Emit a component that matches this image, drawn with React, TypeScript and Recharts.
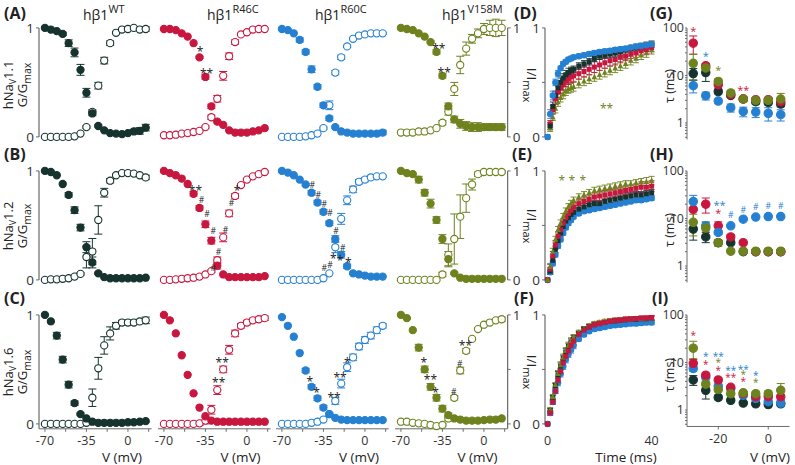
import { ScatterChart, Scatter, XAxis, YAxis, ErrorBar, ReferenceLine } from 'recharts';

const cWT = '#17332f';
const cR46 = '#c8173f';
const cR60 = '#2680d2';
const cV158 = '#6e821e';
const AXIS = '#6a6a6a';
const FONT = '"Open Sans", "Liberation Sans", sans-serif';
const tickStyle = { fontSize: 12.5, fill: '#333', fontFamily: FONT };

// ---- G/Gmax panels (A-C): test voltages
const volts = [-70, -65, -60, -55, -50, -45, -40, -35, -30, -25, -20, -15, -10, -5, 0, 5, 10, 15];

// row A, hNav1.1 (in = inactivation, filled; ac = activation, open)
const a_wt_in = [1, .985, .97, .945, .86, .775, .615, .405, .215, .1, .06, .035, .03, .025, .035, .05, .055, .085];
const a_wt_ac = [0, 0, 0, 0, 0, .005, .03, .09, .23, .47, .7, .86, .955, .985, .99, 1, .985, .99];
const a_r46_in = [.99, .99, .98, .95, .92, .86, .73, .55, .28, .14, .11, .06, .04, .04, .04, .05, .06, .08];
const a_r46_ac = [.015, .015, .02, .03, .035, .045, .055, .09, .18, .35, .56, .74, .87, .94, .96, .985, .99, .99];
const a_r60_in = [.99, .98, .95, .89, .78, .62, .46, .29, .17, .09, .05, .04, .03, .03, .03, .03, .03, .04];
const a_r60_ac = [0, 0, 0, 0, .005, .015, .03, .08, .29, .59, .73, .83, .9, .93, .94, .95, .95, .95];
const a_v158_in = [1, .99, .98, .95, .92, .87, .78, .56, .28, .16, .12, .1, .09, .09, .09, .09, .09, .09];
const a_v158_ac = [.04, .04, .04, .05, .05, .06, .08, .13, .23, .44, .66, .81, .9, .95, .99, 1, 1, 1];
const a_wt_in_e = [0, 0, 0, .015, .03, .04, .05, .04, .02, .01, 0, 0, 0, .01, .01, .02, .03, .03];
const a_wt_ac_e = [0, 0, 0, 0, 0, 0, 0, .01, .02, .03, .03, .02, .01, 0, 0, .01, .01, .02];
const a_r46_in_e = [0, 0, 0, 0, 0, 0, .01, .02, .02, .01, 0, 0, 0, 0, 0, 0, 0, 0];
const a_r46_ac_e = [0, 0, 0, 0, 0, 0, 0, .01, .02, .03, .04, .03, .02, .01, .01, 0, 0, 0];
const a_r60_in_e = [0, 0, 0, .02, .02, .03, .02, .02, .02, .01, 0, 0, 0, 0, .01, .01, .02, .02];
const a_r60_ac_e = [0, .01, .01, .01, .01, 0, 0, .01, .04, .02, .02, .01, .01, .01, .01, .01, .01, .01];
const a_v158_in_e = [0, 0, 0, 0, 0, .01, .02, .02, .03, .03, .04, .04, .04, .04, .03, .03, .03, .03];
const a_v158_ac_e = [0, 0, 0, 0, 0, 0, 0, .02, .03, .06, .08, .06, .04, .04, .05, .07, .08, .07];

// row B, hNav1.2
const b_wt_in = [1, .99, .96, .88, .78, .64, .48, .3, .16, .06, .025, .015, .015, .015, .015, .015, .015, .02];
const b_wt_ac = [0, .005, .005, .01, .015, .03, .055, .21, .26, .55, .8, .91, .96, .98, .98, .975, .96, .94];
const b_r46_in = [1, .98, .96, .93, .88, .79, .66, .51, .36, .13, .05, .025, .025, .025, .025, .025, .025, .035];
const b_r46_ac = [0, 0, .005, .01, .015, .02, .03, .05, .08, .18, .39, .61, .77, .87, .92, .95, .97, .99];
const b_r60_in = [1, .985, .96, .92, .875, .8, .71, .625, .52, .375, .23, .125, .06, .05, .04, .03, .03, .03];
const b_r60_ac = [0, 0, 0, 0, 0, 0, 0, .015, .06, .3, .56, .73, .83, .9, .92, .94, .95, .95];
const b_v158_in = [1, .98, .97, .92, .8, .7, .55, .375, .19, .06, .02, .01, .01, .01, .01, .01, .01, .01];
const b_v158_ac = [0, 0, 0, 0, 0, 0, 0, .05, .23, .375, .58, .75, .875, .97, .99, .99, .99, .99];
const b_wt_in_e = [0, 0, 0, 0, .02, .03, .03, .05, .05, .01, 0, 0, 0, 0, 0, 0, 0, 0];
const b_wt_ac_e = [0, 0, 0, 0, 0, 0, .01, .1, .12, .13, .04, .02, .01, .01, 0, 0, .01, .02];
const b_r46_in_e = [0, 0, 0, 0, 0, .02, .02, .03, .03, .03, 0, 0, 0, 0, 0, 0, 0, 0];
const b_r46_ac_e = [0, 0, 0, 0, 0, 0, 0, 0, .01, .03, .04, .03, .02, .01, .01, .01, .01, .01];
const b_r60_in_e = [0, 0, 0, 0, .01, .02, .02, .02, .02, .03, .03, .02, .01, 0, 0, 0, 0, 0];
const b_r60_ac_e = [0, .01, .01, .01, .01, .01, 0, 0, 0, .05, .05, .04, .03, .02, .02, .02, .01, .01];
const b_v158_in_e = [0, 0, 0, .03, .03, .04, .03, .04, .07, .01, 0, 0, 0, 0, 0, 0, 0, 0];
const b_v158_ac_e = [.01, .01, 0, 0, 0, 0, 0, .02, .1, .23, .2, .13, .05, .02, .01, .01, .01, .01];

// row C, hNav1.6
const c_wt_in = [1, .94, .81, .59, .36, .19, .09, .05, .02, .01, .01, .01, .01, .01, .015, .015, .02, .025];
const c_wt_ac = [0, 0, 0, 0, 0, 0, 0, .01, .24, .51, .72, .83, .9, .93, .93, .93, .94, .95];
const c_r46_in = [1, .95, .83, .63, .45, .28, .15, .07, .03, .02, .02, .02, .02, .02, .02, .02, .02, .02];
const c_r46_ac = [0, 0, 0, 0, 0, 0, .005, .03, .13, .31, .5, .68, .83, .9, .93, .95, .96, .97];
const c_r60_in = [.98, .9, .8, .65, .49, .34, .235, .15, .09, .055, .04, .035, .035, .035, .035, .035, .035, .035];
const c_r60_ac = [0, 0, 0, 0, 0, .01, .02, .04, .09, .21, .37, .52, .61, .71, .77, .81, .86, .9];
const c_v158_in = [1, .97, .86, .7, .5, .34, .24, .14, .08, .05, .04, .03, .03, .03, .035, .04, .04, .05];
const c_v158_ac = [.02, .02, .01, .005, 0, -.01, -.02, -.01, .05, .24, .49, .67, .78, .87, .91, .93, .95, .96];
const c_wt_in_e = [0, 0, .03, .03, .03, .02, .01, 0, 0, 0, 0, 0, 0, 0, 0, 0, 0, 0];
const c_wt_ac_e = [0, 0, 0, 0, 0, 0, 0, 0, .08, .1, .08, .06, .03, .02, .02, .02, .02, .03];
const c_r46_ac_e = [0, 0, 0, 0, 0, 0, .02, .03, .04, .04, .03, .04, .03, .02, .02, .02, .02, .02];
const c_r60_in_e = [0, 0, 0, 0, .02, .02, .02, .02, 0, 0, 0, 0, 0, 0, 0, 0, 0, 0];
const c_r60_ac_e = [0, .01, .01, .01, .01, .01, 0, 0, .01, .03, .04, .04, .03, .03, .03, .03, .03, .02];
const c_v158_in_e = [0, 0, 0, .03, .03, .03, .03, .03, .02, 0, 0, 0, 0, 0, 0, 0, 0, 0];
const c_v158_ac_e = [0, 0, 0, 0, 0, 0, 0, .01, .02, .02, .03, .02, .01, .01, .01, .01, .01, .02];

// significance marks (x in mV, y in G/Gmax)
const a_r46_notes = [{ x: -39.5, y: .8, t: '*' }, { x: -34, y: .6, t: '**' }];
const a_v158_notes = [{ x: -38, y: .83, t: '**' }, { x: -33.5, y: .61, t: '**' }];
const b_r46_notes = [
  { x: -43.4, y: .84, t: '**' }, { x: -38.4, y: .73, t: '#' }, { x: -33.6, y: .6, t: '#' }, { x: -28.5, y: .45, t: '#' },
  { x: -24, y: .26, t: '#' }, { x: -28.5, y: .11, t: '#' }, { x: -18, y: .46, t: '#' }, { x: -13, y: .71, t: '#' }, { x: -8.3, y: .84, t: '*' },
];
const b_r60_notes = [
  { x: -44.4, y: .87, t: '#' }, { x: -39.4, y: .78, t: '#' }, { x: -34.3, y: .7, t: '#' }, { x: -29.5, y: .61, t: '#' },
  { x: -24.5, y: .45, t: '#' }, { x: -18.8, y: .29, t: '#' }, { x: -34.3, y: .11, t: '#' }, { x: -29.5, y: .14, t: '#' },
  { x: -26.7, y: .21, t: '*' }, { x: -21, y: .2, t: '*' }, { x: -14, y: .18, t: '*' },
];
const c_r46_notes = [{ x: -23.8, y: .4, t: '**' }, { x: -20.9, y: .58, t: '**' }];
const c_r60_notes = [
  { x: -46.4, y: .405, t: '*' }, { x: -40.7, y: .31, t: '*' }, { x: -26, y: .26, t: '**' }, { x: -21, y: .44, t: '**' }, { x: -14.9, y: .58, t: '*' },
];
const c_v158_notes = [
  { x: -50.8, y: .58, t: '*' }, { x: -45.1, y: .43, t: '**' }, { x: -40.9, y: .31, t: '*' },
  { x: -25.5, y: .29, t: '#' }, { x: -20.4, y: .55, t: '#' }, { x: -15.6, y: .74, t: '**' },
];

// ---- recovery from inactivation (D-F)
const times = [0, 1, 2, 3, 4, 5, 6, 7, 8, 9, 10, 12, 14, 16, 18, 20, 22, 24, 26, 28, 30, 32, 34, 36, 38, 40];
const d_wt = [0, .1, .28, .38, .45, .5, .54, .57, .59, .61, .62, .65, .67, .69, .72, .74, .75, .76, .77, .78, .8, .81, .82, .83, .84, .85];
const d_r46 = [0, .12, .25, .35, .41, .45, .48, .51, .53, .55, .56, .58, .6, .62, .64, .66, .68, .7, .71, .73, .74, .76, .77, .79, .8, .82];
const d_r60 = [0, .21, .38, .5, .58, .63, .67, .69, .71, .72, .73, .74, .75, .76, .77, .78, .785, .79, .8, .805, .81, .82, .83, .835, .84, .85];
const d_v158 = [0, .08, .18, .26, .32, .36, .39, .42, .44, .45, .46, .49, .51, .53, .55, .57, .59, .61, .63, .65, .67, .7, .72, .75, .77, .8];
const e_wt = [0, .08, .18, .28, .36, .43, .49, .54, .57, .6, .62, .65, .67, .69, .7, .7, .72, .73, .74, .75, .76, .77, .78, .78, .79, .8];
const e_r46 = [0, .1, .22, .32, .4, .46, .52, .57, .61, .64, .67, .7, .72, .74, .76, .77, .78, .79, .8, .81, .82, .83, .84, .85, .85, .86];
const e_r60 = [0, .07, .15, .23, .31, .37, .43, .48, .52, .55, .58, .61, .63, .64, .65, .66, .67, .68, .69, .7, .71, .72, .73, .73, .74, .75];
const e_v158 = [0, .12, .26, .37, .46, .52, .58, .63, .67, .7, .73, .76, .78, .8, .82, .83, .84, .85, .86, .87, .88, .88, .89, .9, .9, .91];
const f_wt = [0, .12, .24, .35, .45, .53, .6, .66, .71, .75, .78, .83, .87, .89, .91, .92, .93, .94, .945, .95, .955, .96, .96, .965, .965, .97];
const f_r46 = [0, .1, .2, .3, .4, .48, .56, .62, .67, .72, .76, .82, .86, .89, .91, .92, .93, .94, .95, .95, .96, .96, .965, .97, .97, .975];
const f_r60 = [0, .1, .2, .3, .38, .46, .53, .59, .64, .68, .72, .78, .82, .85, .87, .88, .89, .9, .905, .91, .915, .92, .92, .925, .93, .93];
const f_v158 = [0, .13, .25, .36, .46, .54, .61, .67, .72, .76, .79, .84, .87, .9, .92, .93, .94, .945, .95, .955, .96, .96, .965, .965, .97, .97];
// SEM of the recovery curves
const d_wt_e = [0, .03, .04, .04, .04, .04, .04, .04, .04, .03, .03, .03, .03, .03, .03, .03, .03, .03, .03, .03, .03, .03, .03, .03, .03, .03];
const d_r46_e = [0, .03, .04, .05, .05, .05, .05, .05, .05, .05, .05, .05, .05, .05, .05, .05, .05, .05, .05, .05, .04, .04, .04, .04, .04, .04];
const d_r60_e = [0, .04, .04, .03, .03, .02, .02, .02, .02, .02, .02, .02, .02, .02, .02, .02, .02, .02, .02, .02, .02, .02, .02, .02, .02, .02];
const d_v158_e = [0, .03, .03, .04, .04, .04, .04, .04, .04, .04, .04, .04, .04, .04, .04, .04, .04, .04, .04, .04, .04, .04, .04, .04, .04, .04];
const e_wt_e = [0, .03, .03, .03, .03, .03, .03, .03, .03, .03, .03, .03, .03, .03, .03, .03, .03, .03, .03, .03, .03, .03, .03, .03, .03, .03];
const e_r46_e = [0, .04, .04, .04, .04, .04, .04, .04, .04, .04, .04, .04, .04, .04, .04, .04, .04, .04, .04, .04, .04, .04, .04, .05, .05, .05];
const e_r60_e = [0, .02, .02, .02, .02, .02, .02, .02, .02, .02, .02, .02, .02, .02, .02, .02, .02, .02, .02, .02, .02, .02, .02, .02, .02, .02];
const e_v158_e = [0, .03, .03, .03, .03, .03, .03, .03, .03, .03, .03, .03, .03, .03, .03, .03, .03, .03, .03, .03, .03, .03, .03, .03, .04, .04];
const f_e = [0, .02, .02, .02, .03, .03, .03, .03, .03, .03, .03, .02, .02, .02, .02, .02, .02, .02, .02, .02, .02, .02, .02, .02, .02, .02];
const d_notes = [{ x: 22.7, y: .28, t: '**' }];
const e_notes = [{ x: 5.5, y: .93, t: '*' }, { x: 9.3, y: .93, t: '*' }, { x: 13.5, y: .93, t: '*' }];

// ---- recovery time constants (G-I)
const tauV = [-30, -25, -20, -15, -10, -5, 0, 5];
const g_wt = [11, 11.5, 4.6, 3.8, 3.2, 2.8, 2.7, 2.5];
const g_r46 = [48, 16, 6.4, 4, 3.2, 3.1, 3.1, 2.8];
const g_r60 = [6.1, 3.75, 2.9, 2.1, 1.75, 1.7, 1.6, 1.5];
const g_v158 = [18, 14.4, 7.5, 4.3, 3.2, 3, 3, 3.2];
const g_wt_e = [3, 4, .5, .3, .3, .3, .3, .3];
const g_r46_e = [20, 2, 1, .3, .3, .3, .3, .3];
const g_r60_e = [1.8, .7, .3, .4, .4, .4, .5, .4];
const g_v158_e = [10, 3, 1, .5, .4, .4, .4, 1];
const h_wt = [6, 4.1, 3.1, 3.1, 2, 2, 2, 2];
const h_r46 = [15.6, 20, 7, 4.1, 3.1, 2, 2, 2];
const h_r60 = [22.7, 7, 5.1, 7, 9.7, 10.7, 11, 11];
const h_v158 = [8.3, 6.3, 3.1, 2.05, 2.05, 2.05, 2.05, 2.05];
const h_wt_e = [2.5, 1, .3, .2, 0, 0, 0, 0];
const h_r46_e = [9, 7, 1.5, .5, .2, 0, 0, 0];
const h_r60_e = [8, 1.5, .5, .5, .5, .5, .5, .5];
const h_v158_e = [4, 2, .5, .1, .1, .1, .1, .1];
const i_wt = [4.3, 2.6, 1.84, 1.6, 1.4, 1.35, 1.3, 1.35];
const i_r46 = [9.6, 5.4, 4.3, 3, 2.2, 1.9, 1.9, 1.9];
const i_r60 = [7.5, 4.9, 3.2, 2.8, 2.05, 1.75, 1.5, 1.4];
const i_v158 = [20, 3.5, 2.7, 2.2, 2.3, 2.2, 2.2, 2.6];
const i_wt_e = [1, .9, .2, .1, .1, .1, .1, .1];
const i_r46_e = [2, .5, .4, .3, .2, .2, .2, .2];
const i_r60_e = [1, .6, .3, .3, .2, .2, .2, .2];
const i_v158_e = [8, .5, .3, .2, .2, .2, .3, 1];

const g_notes_r46 = [{ x: -30, y: 95, t: '*' }, { x: -10, y: 5.4, t: '**' }];
const g_notes_r60 = [{ x: -25, y: 28, t: '*' }];
const g_notes_v158 = [{ x: -20, y: 14.4, t: '*' }];
const h_notes_r60 = [
  { x: -19.5, y: 21, t: '**' }, { x: -15, y: 11.8, t: '#' }, { x: -10, y: 15, t: '#' }, { x: -5, y: 17.5, t: '#' }, { x: 0, y: 18, t: '#' }, { x: 5, y: 18, t: '#' },
];
const h_notes_r46 = [{ x: -20, y: 14.4, t: '*' }];
const i_notes_r46 = [{ x: -30, y: 41, t: '*' }, { x: -25, y: 9.9, t: '*' }, { x: -20, y: 7.3, t: '*' }, { x: -15, y: 5.3, t: '**' }, { x: -10, y: 4.4, t: '*' }];
const i_notes_r60 = [{ x: -25, y: 15, t: '*' }, { x: -20, y: 15, t: '**' }, { x: -15, y: 7.3, t: '**' }, { x: -10, y: 7.8, t: '**' }, { x: -5, y: 5.9, t: '*' }];
const i_notes_v158 = [{ x: -20, y: 10.9, t: '*' }, { x: -10, y: 6.2, t: '*' }, { x: -5, y: 4.2, t: '*' }];

const LOG_TICKS = [0.5, 0.6, 0.7, 0.8, 0.9, 1, 2, 3, 4, 5, 6, 7, 8, 9, 10, 20, 30, 40, 50, 60, 70, 80, 90, 100];
const G_XTICKS = [-70, -52.5, -35, -17.5, 0, 17.5];

type Pt = { x: number; y: number; e?: number; t?: string };
const pts = (xs: number[], ys: number[], es?: number[]): Pt[] => xs.map((x, i) => ({ x, y: ys[i], e: es ? es[i] : 0 }));

const dot = (color: string, open = false, r = 3.6) => (p: any) =>
  <circle cx={p.cx} cy={p.cy} r={r} fill={open ? '#fff' : color} stroke={color} strokeWidth={1.1} />;
const square = (color: string, s = 5) => (p: any) =>
  <rect x={p.cx - s / 2} y={p.cy - s / 2} width={s} height={s} fill={color} />;
const tri = (color: string, s = 5.6) => (p: any) =>
  <path d={`M${p.cx},${p.cy - s * 0.6}L${p.cx + s / 2},${p.cy + s * 0.4}L${p.cx - s / 2},${p.cy + s * 0.4}Z`} fill={color} />;
const note = (color: string, size = 12) => (p: any) => {
  const hash = p.payload.t.includes('#');
  return (
    <text x={p.cx} y={p.cy + (hash ? 3 : size * 0.54)} textAnchor="middle" fontSize={hash ? 8.5 : size} fill={color} fontFamily={FONT}>
      {p.payload.t}
    </text>
  );
};

const ZERO = { top: 0, right: 0, bottom: 0, left: 0 };
const K = 83 / 70; // px per mV
const ROW1 = [28, 171, 314.5]; // y of 1.0 in each row
const UNIT = 109;
const YMIN = -0.045;
const G_DOMAIN = [YMIN, 1.1];
const G_TICKS_L = [0, 1];
const G_TICKS_R = [0, 0.5, 1];
const fmtHalf = (v: number) => (v === 0.5 ? '' : String(v));
const fmtMv = (v: number) => (v === -70 || v === -35 || v === 0 ? String(v) : '');
const fmtLog = (v: number) => (v === 1 || v === 10 || v === 100 ? String(v) : '');
const axisTick = { ...tickStyle, fontSize: 13.5 };
const axisLineStyle = { stroke: AXIS };
const PLOT_H = (1.1 - YMIN) * UNIT;

function GPanel({ x70, row, color, inact, act, notes = [], side, bottom }: {
  x70: number; row: number; color: string; inact: Pt[]; act: Pt[]; notes?: Pt[]; side?: 'left' | 'right'; bottom?: boolean;
}) {
  const lw = side === 'left' ? 22 : 0;
  const rw = side === 'right' ? 18 : 0;
  const bh = bottom ? 24 : 0;
  const plotL = x70 - 5 * K;
  const plotW = 95 * K;
  const axisX = side === 'right' ? 20 : -75;
  return (
    <div style={{ position: 'absolute', left: plotL - lw, top: ROW1[row] - 0.1 * UNIT }}>
      <ScatterChart width={plotW + lw + rw} height={PLOT_H + bh} margin={ZERO}>
        <XAxis type="number" dataKey="x" domain={[-75, 20]} ticks={G_XTICKS} tickFormatter={fmtMv} hide={!bottom} height={bh || 1}
          axisLine={axisLineStyle} tickLine={axisLineStyle} tickSize={3} tickMargin={4} tick={tickStyle} interval={0} />
        <YAxis type="number" dataKey="y" domain={G_DOMAIN} hide={!side} orientation={side === 'right' ? 'right' : 'left'}
          width={lw + rw || 1} ticks={side === 'right' ? G_TICKS_R : G_TICKS_L} tickFormatter={fmtHalf}
          axisLine={false} tickSize={3} tickMargin={2} tickLine={axisLineStyle} tick={axisTick} interval={0} />
        {side && <ReferenceLine segment={[{ x: axisX, y: bottom ? YMIN : 0 }, { x: axisX, y: 1 }]} stroke={AXIS} strokeWidth={1.2} />}
        <Scatter data={act} shape={dot(color, true)} isAnimationActive={false}>
          <ErrorBar dataKey="e" direction="y" width={4} stroke={color} strokeWidth={1} />
        </Scatter>
        <Scatter data={inact} shape={dot(color)} isAnimationActive={false}>
          <ErrorBar dataKey="e" direction="y" width={4} stroke={color} strokeWidth={1} />
        </Scatter>
        {notes.length > 0 && <Scatter data={notes} shape={note('#222')} isAnimationActive={false} />}
      </ScatterChart>
    </div>
  );
}

const TPX = 2.6; // px per ms
function RPanel({ row, series, notes = [], bottom }: {
  row: number; series: { data: Pt[]; shape: any; color: string }[]; notes?: Pt[]; bottom?: boolean;
}) {
  const lw = 20;
  const bh = bottom ? 24 : 0;
  const plotL = 548 - TPX;
  return (
    <div style={{ position: 'absolute', left: plotL - lw, top: ROW1[row] - 0.1 * UNIT }}>
      <ScatterChart width={45 * TPX + lw} height={PLOT_H + bh} margin={ZERO}>
        <XAxis type="number" dataKey="x" domain={[-1, 44]} ticks={[0, 40]} hide={!bottom} height={bh || 1}
          axisLine={false} tickLine={false} tickSize={3} tickMargin={4} tick={tickStyle} interval={0} />
        <YAxis type="number" dataKey="y" domain={G_DOMAIN} width={lw} ticks={G_TICKS_R}
          tickFormatter={fmtHalf} axisLine={false} tickSize={3} tickMargin={2}
          tickLine={axisLineStyle} tick={axisTick} interval={0} />
        <ReferenceLine segment={[{ x: -1, y: 0 }, { x: -1, y: 1 }]} stroke={AXIS} strokeWidth={1.2} />
        {series.map((s, i) => (
          <Scatter key={i} data={s.data} shape={s.shape} isAnimationActive={false}>
            <ErrorBar dataKey="e" direction="y" width={3} stroke={s.color} strokeWidth={0.9} />
          </Scatter>
        ))}
        {notes.length > 0 && <Scatter data={notes} shape={note(cV158)} isAnimationActive={false} />}
      </ScatterChart>
    </div>
  );
}

const VPX = 2.5; // px per mV in tau panels
const DEC = 47.5; // px per decade
function TPanel({ row, series, notes, bottom, noteSize = 11 }: {
  row: number; series: { data: Pt[]; color: string }[]; notes: { data: Pt[]; color: string }[]; bottom?: boolean; noteSize?: number;
}) {
  const y100 = [28, 171, 315][row];
  const lw = 32;
  const bh = bottom ? 24 : 0;
  const plotL = 693 - 2.5 * VPX;
  return (
    <div style={{ position: 'absolute', left: plotL - lw, top: y100 }}>
      <ScatterChart width={41 * VPX + lw} height={DEC * Math.log10(100 / 0.45) + bh} margin={ZERO}>
        <XAxis type="number" dataKey="x" domain={[-32.5, 8.5]} ticks={[-20, 0]} hide={!bottom} height={bh || 1}
          tickSize={3} tickMargin={5} axisLine={axisLineStyle} tickLine={axisLineStyle} tick={tickStyle} interval={0} />
        <YAxis type="number" dataKey="y" scale="log" domain={[0.45, 100]} ticks={LOG_TICKS} width={lw}
          tickFormatter={fmtLog} tickSize={2} tickMargin={1}
          axisLine={axisLineStyle} tickLine={axisLineStyle} tick={tickStyle} interval={0} />
        {series.map((s, i) => (
          <Scatter key={i} data={s.data} shape={dot(s.color, false, 4.2)} isAnimationActive={false}>
            <ErrorBar dataKey="e" direction="y" width={4} stroke={s.color} strokeWidth={1} />
          </Scatter>
        ))}
        {notes.map((n, i) => <Scatter key={'n' + i} data={n.data} shape={note(n.color, noteSize)} isAnimationActive={false} />)}
      </ScatterChart>
    </div>
  );
}

const X70 = [45, 163.5, 282, 400.5];
const titles = [
  { x: 83, sup: 'WT' }, { x: 207, sup: 'R46C' }, { x: 315, sup: 'R60C' }, { x: 442, sup: 'V158M' },
];
const letters = [
  { t: '(A)', x: 4, y: 19 }, { t: '(B)', x: 4, y: 160 }, { t: '(C)', x: 4, y: 304 },
  { t: '(D)', x: 514, y: 19 }, { t: '(E)', x: 512, y: 160 }, { t: '(F)', x: 514, y: 304 },
  { t: '(G)', x: 650, y: 19 }, { t: '(H)', x: 650, y: 160 }, { t: '(I)', x: 652, y: 304 },
];
const rowNames = ['1.1', '1.2', '1.6'];
const rowMid = [85, 226, 372];
const tauMid = [86, 230, 375];

// build series once
const A = [
  [pts(volts, a_wt_in, a_wt_in_e), pts(volts, a_wt_ac, a_wt_ac_e)],
  [pts(volts, a_r46_in, a_r46_in_e), pts(volts, a_r46_ac, a_r46_ac_e)],
  [pts(volts, a_r60_in, a_r60_in_e), pts(volts, a_r60_ac, a_r60_ac_e)],
  [pts(volts, a_v158_in, a_v158_in_e), pts(volts, a_v158_ac, a_v158_ac_e)],
];
const B = [
  [pts(volts, b_wt_in, b_wt_in_e), pts(volts, b_wt_ac, b_wt_ac_e)],
  [pts(volts, b_r46_in, b_r46_in_e), pts(volts, b_r46_ac, b_r46_ac_e)],
  [pts(volts, b_r60_in, b_r60_in_e), pts(volts, b_r60_ac, b_r60_ac_e)],
  [pts(volts, b_v158_in, b_v158_in_e), pts(volts, b_v158_ac, b_v158_ac_e)],
];
const C = [
  [pts(volts, c_wt_in, c_wt_in_e), pts(volts, c_wt_ac, c_wt_ac_e)],
  [pts(volts, c_r46_in), pts(volts, c_r46_ac, c_r46_ac_e)],
  [pts(volts, c_r60_in, c_r60_in_e), pts(volts, c_r60_ac, c_r60_ac_e)],
  [pts(volts, c_v158_in, c_v158_in_e), pts(volts, c_v158_ac, c_v158_ac_e)],
];
const COLORS = [cWT, cR46, cR60, cV158];
const NOTES = [
  [[], a_r46_notes, [], a_v158_notes],
  [[], b_r46_notes, b_r60_notes, []],
  [[], c_r46_notes, c_r60_notes, c_v158_notes],
];

const D_SERIES = [
  { data: pts(times, d_v158, d_v158_e), shape: tri(cV158), color: cV158 },
  { data: pts(times, d_r46, d_r46_e), shape: square(cR46), color: cR46 },
  { data: pts(times, d_wt, d_wt_e), shape: square(cWT), color: cWT },
  { data: pts(times, d_r60, d_r60_e), shape: dot(cR60, false, 2.7), color: cR60 },
];
const E_SERIES = [
  { data: pts(times, e_r60, e_r60_e), shape: dot(cR60, false, 2.7), color: cR60 },
  { data: pts(times, e_wt, e_wt_e), shape: square(cWT), color: cWT },
  { data: pts(times, e_r46, e_r46_e), shape: square(cR46), color: cR46 },
  { data: pts(times, e_v158, e_v158_e), shape: tri(cV158), color: cV158 },
];
const F_SERIES = [
  { data: pts(times, f_r60, f_e), shape: dot(cR60, false, 2.7), color: cR60 },
  { data: pts(times, f_wt, f_e), shape: square(cWT), color: cWT },
  { data: pts(times, f_v158, f_e), shape: tri(cV158), color: cV158 },
  { data: pts(times, f_r46, f_e), shape: square(cR46), color: cR46 },
];
const G_SERIES = [
  { data: pts(tauV, g_r60, g_r60_e), color: cR60 }, { data: pts(tauV, g_wt, g_wt_e), color: cWT },
  { data: pts(tauV, g_r46, g_r46_e), color: cR46 }, { data: pts(tauV, g_v158, g_v158_e), color: cV158 },
];
const H_SERIES = [
  { data: pts(tauV, h_wt, h_wt_e), color: cWT }, { data: pts(tauV, h_r46, h_r46_e), color: cR46 },
  { data: pts(tauV, h_r60, h_r60_e), color: cR60 }, { data: pts(tauV, h_v158, h_v158_e), color: cV158 },
];
const I_SERIES = [
  { data: pts(tauV, i_wt, i_wt_e), color: cWT }, { data: pts(tauV, i_r60, i_r60_e), color: cR60 },
  { data: pts(tauV, i_r46, i_r46_e), color: cR46 }, { data: pts(tauV, i_v158, i_v158_e), color: cV158 },
];
const G_NOTES = [{ data: g_notes_r46, color: cR46 }, { data: g_notes_r60, color: cR60 }, { data: g_notes_v158, color: cV158 }];
const H_NOTES = [{ data: h_notes_r60, color: cR60 }, { data: h_notes_r46, color: cR46 }];
const I_NOTES = [{ data: i_notes_r46, color: cR46 }, { data: i_notes_r60, color: cR60 }, { data: i_notes_v158, color: cV158 }];

export default function App() {
  return (
    <div style={{ position: 'absolute', left: 0, top: 0, width: 795, height: 465, background: '#fff', overflow: 'hidden' }}>
      <style>{'.recharts-surface{overflow:visible}'}</style>
      {[A, B, C].map((rowData, r) =>
        rowData.map(([inact, act], p) => (
          <GPanel key={`${r}-${p}`} x70={X70[p]} row={r} color={COLORS[p]} inact={inact} act={act}
            notes={NOTES[r][p] as Pt[]} side={p === 0 ? 'left' : p === 3 ? 'right' : undefined} bottom={r === 2} />
        ))
      )}

      <RPanel row={0} notes={d_notes} series={D_SERIES} />
      <RPanel row={1} notes={e_notes} series={E_SERIES} />
      <RPanel row={2} bottom series={F_SERIES} />

      <TPanel row={0} series={G_SERIES} notes={G_NOTES} />
      <TPanel row={1} series={H_SERIES} notes={H_NOTES} />
      <TPanel row={2} bottom series={I_SERIES} notes={I_NOTES} noteSize={10} />

      <svg width={795} height={465} style={{ position: 'absolute', left: 0, top: 0, pointerEvents: 'none' }} fontFamily={FONT} fill="#222">
        {letters.map((l) => (
          <text key={l.t} x={l.x} y={l.y} fontSize={16} fontWeight={700}>{l.t}</text>
        ))}
        {titles.map((t) => (
          <text key={t.sup} x={t.x} y={20} fontSize={14}>
            hβ1<tspan dy={-7} fontSize={11}>{t.sup}</tspan>
          </text>
        ))}
        {rowNames.map((n, i) => (
          <g key={n}>
            <text transform={`translate(12.5,${rowMid[i]}) rotate(-90)`} textAnchor="middle" fontSize={13}>
              hNa<tspan dy={3} fontSize={9}>V</tspan><tspan dy={-3}>{n}</tspan>
            </text>
            <text transform={`translate(27,${rowMid[i]}) rotate(-90)`} textAnchor="middle" fontSize={13}>
              G/G<tspan dy={4} fontSize={10.5}>max</tspan>
            </text>
            <text transform={`translate(527,${rowMid[i]}) rotate(90)`} textAnchor="middle" fontSize={13.5}>
              I/I<tspan dy={4} fontSize={11}>max</tspan>
            </text>
            <text transform={`translate(674,${tauMid[i]}) rotate(-90)`} textAnchor="middle" fontSize={12.5}>τ (ms)</text>
          </g>
        ))}
        {X70.map((x) => (
          <text key={x} x={x + 77} y={462} textAnchor="middle" fontSize={13.5}>V (mV)</text>
        ))}
        <text x={626} y={462} textAnchor="middle" fontSize={13.5}>Time (ms)</text>
        <text x={770} y={462} textAnchor="middle" fontSize={13.5}>V (mV)</text>
      </svg>
    </div>
  );
}
